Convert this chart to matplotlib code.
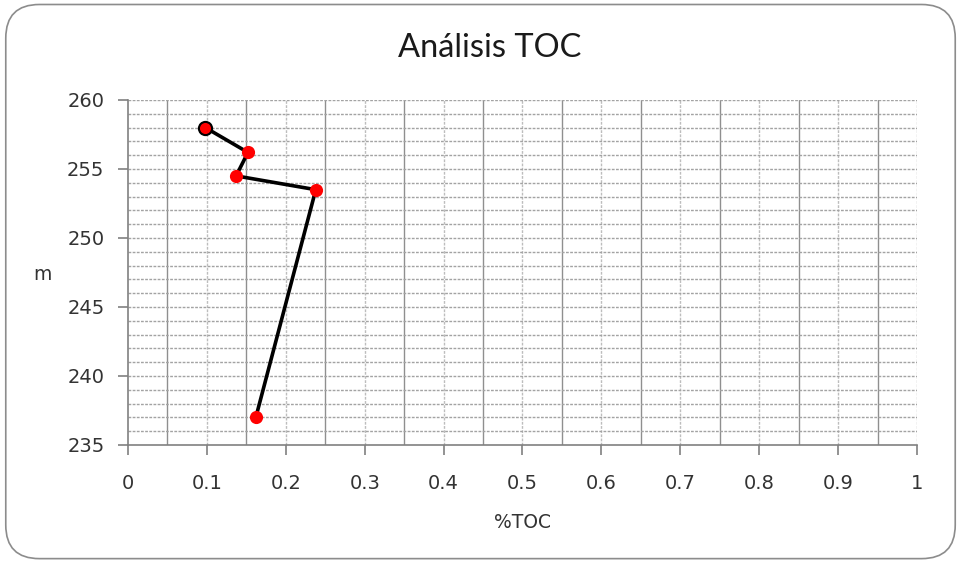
import matplotlib
matplotlib.use("Agg")
import matplotlib.pyplot as plt
import numpy as np
from matplotlib.patches import FancyBboxPatch

# TOC samples: percentage and depth (m)
toc = [0.098, 0.152, 0.137, 0.238, 0.162]
depth = [258.0, 256.2, 254.5, 253.5, 237.0]

xTicks = [0, 0.1, 0.2, 0.3, 0.4, 0.5, 0.6, 0.7, 0.8, 0.9, 1]
xTickLabels = ['0', '0.1', '0.2', '0.3', '0.4', '0.5', '0.6', '0.7', '0.8', '0.9', '1']
yTicks = [235, 240, 245, 250, 255, 260]

fig = plt.figure(figsize=(9.61, 5.62), dpi=100)

# rounded chart border
border = FancyBboxPatch((0.006, 0.006), 0.988, 0.986,
                        boxstyle="round,pad=0,rounding_size=0.035",
                        transform=fig.transFigure, facecolor='none',
                        edgecolor='#8c8c8c', linewidth=1.2,
                        mutation_aspect=961 / 562, zorder=10)
fig.patches.append(border)

ax = fig.add_axes([0.1332, 0.2082, 0.821, 0.6139])
ax.set_xlim(0, 1)
ax.set_ylim(235, 260)

# vertical grid every 0.05, horizontal grid every 1 m
for xv in np.arange(0.05, 1.001, 0.05):
    if round(xv * 20) % 2 == 1:
        ax.axvline(xv, color='#8f8f8f', lw=1.0, zorder=1)
    else:
        ax.axvline(xv, color='#bdbdbd', lw=1.0, ls=(0, (2, 1)), zorder=1)
for yv in range(236, 261):
    ax.axhline(yv, color='#a3a3a3', lw=1.0, ls=(0, (2, 1)), zorder=1)

ax.plot(toc, depth, color='black', lw=2.6, zorder=3)
ax.scatter(toc[1:], depth[1:], s=90, color='#ff0000', zorder=4, linewidths=0)
ax.scatter(toc[:1], depth[:1], s=90, color='#ff0000', edgecolors='black',
           linewidths=1.5, zorder=5)

ax.set_xticks(xTicks)
ax.set_xticklabels(xTickLabels)
ax.set_yticks(yTicks)
ax.tick_params(axis='both', direction='out', length=7, width=1.2,
               color='#808080', labelsize=14, labelcolor='#333333')
ax.tick_params(axis='x', pad=14)
ax.tick_params(axis='y', pad=10)
for side in ['top', 'right']:
    ax.spines[side].set_visible(False)
for side in ['left', 'bottom']:
    ax.spines[side].set_color('#808080')
    ax.spines[side].set_linewidth(1.2)

fig.text(0.5435, 1 - 522 / 562, '%TOC', fontsize=13.5, color='#333333',
         ha='center', va='center')
fig.text(0.0437, 1 - 274 / 562, 'm', fontsize=13.5, color='#333333',
         ha='center', va='center')
fig.text(0.5094, 1 - 57 / 562, 'Análisis TOC', family='Lato', fontsize=23.5,
         color='#1a1a1a', ha='center', va='baseline')

fig.savefig('out.png', dpi=100)
